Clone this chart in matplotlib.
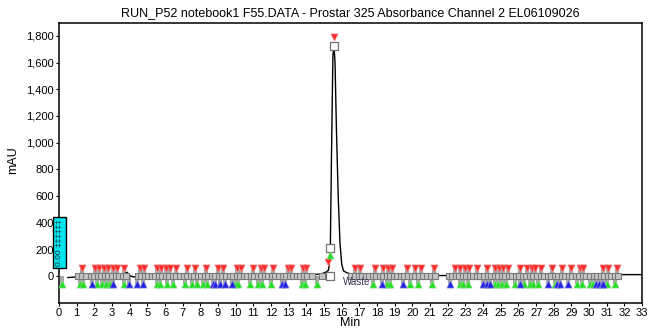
import numpy as np
import matplotlib
matplotlib.use("Agg")
import matplotlib.pyplot as plt
from matplotlib.patches import Rectangle
from matplotlib.ticker import FuncFormatter

plt.rcParams["font.family"] = ["Liberation Sans", "DejaVu Sans"]

title = "RUN_P52 notebook1 F55.DATA - Prostar 325 Absorbance Channel 2 EL06109026"

# chromatogram trace (min, mAU)
trace_t = [0.5, 1.0, 2.0, 3.0, 3.7, 3.85, 4.0, 4.2, 5.0, 6.0, 7.0, 8.0, 9.0, 10.0,
           11.0, 12.0, 13.0, 14.0, 14.5, 14.9, 15.1, 15.25, 15.35, 15.42, 15.5,
           15.56, 15.62, 15.7, 15.8, 15.9, 16.0, 16.1, 16.3, 16.6, 17.0, 18.0,
           20.0, 22.0, 24.0, 26.0, 28.0, 30.0, 32.0, 33.0]
trace_y = [-10, -5, 0, 5, 15, 30, 5, -5, 5, 0, 2, 5, 3, 0,
           5, 5, 8, 10, 12, 20, 30, 45, 150, 900, 1650,
           1725, 1600, 1100, 600, 250, 90, 40, 25, 15, 10, 8,
           5, 5, 5, 8, 10, 10, 12, 12]

# fraction markers
red_t = [1.28, 2.04, 2.28, 2.55, 2.79, 3.07, 3.3, 3.68, 4.58, 4.83, 5.53, 5.77,
         6.04, 6.28, 6.6, 7.22, 7.7, 8.32, 9.0, 9.3, 10.09, 10.28, 10.96, 11.43,
         11.62, 12.13, 12.98, 13.11, 13.79, 13.98, 16.75, 17.03, 17.88, 18.35,
         18.64, 18.82, 19.67, 20.15, 20.5, 21.2, 22.41, 22.69, 22.98, 23.22,
         23.64, 24.2, 24.67, 24.92, 25.14, 25.43, 26.1, 26.47, 26.75, 26.94,
         27.26, 27.88, 28.45, 29.0, 29.48, 29.67, 30.8, 31.09, 31.56]
green_t = [0.15, 1.19, 1.34, 2.17, 2.41, 2.66, 2.89, 3.68, 5.53, 5.72, 6.1, 6.47,
           7.13, 7.5, 7.79, 8.17, 8.36, 9.96, 10.15, 10.81, 11.28, 11.47, 11.98,
           13.73, 13.92, 14.58, 17.75, 18.54, 18.73, 19.86, 20.3, 21.09, 22.69,
           22.88, 23.17, 24.67, 24.86, 25.05, 25.3, 25.8, 26.3, 26.64, 26.84,
           27.12, 28.07, 29.3, 29.58, 30.05, 30.24, 31.0, 31.47]
blue_t = [1.85, 3.07, 3.98, 4.4, 4.77, 8.73, 8.83, 9.11, 9.39, 9.77, 12.6, 12.79,
          18.26, 19.48, 22.13, 24.01, 24.2, 24.39, 26.1, 27.69, 28.16, 28.35,
          28.82, 30.4, 30.55, 30.7, 30.8]
sq_t = [1.05, 1.3, 1.55, 1.8, 2.0, 2.2, 2.4, 2.6, 2.8, 3.0, 3.2, 3.4, 3.6, 3.8,
        4.45, 4.65, 4.85, 5.05, 5.25, 5.45, 5.65, 5.85, 6.05, 6.25, 6.45, 6.65,
        6.85, 7.05, 7.25, 7.45, 7.65, 7.85, 8.05, 8.25, 8.45, 8.65, 8.85, 9.05,
        9.25, 9.45, 9.65, 9.85, 10.05, 10.25, 10.45, 10.65, 10.85, 11.05, 11.25,
        11.45, 11.65, 11.85, 12.05, 12.25, 12.45, 12.65, 12.85, 13.05, 13.25,
        13.45, 13.65, 13.85, 14.05, 14.3, 14.9, 16.55, 16.75, 16.95, 17.15,
        17.35, 17.55, 17.75, 17.95, 18.15, 18.35, 18.55, 18.75, 18.95, 19.15,
        19.35, 19.55, 19.75, 19.95, 20.15, 20.35, 20.6, 20.85, 21.05, 21.3,
        22.05, 22.25, 22.45, 22.65, 22.85, 23.05, 23.25, 23.45, 23.65, 23.85,
        24.05, 24.25, 24.45, 24.65, 24.85, 25.05, 25.25, 25.45, 25.65, 25.85,
        26.05, 26.25, 26.45, 26.65, 26.85, 27.05, 27.25, 27.45, 27.65, 27.85,
        28.05, 28.25, 28.45, 28.65, 28.85, 29.05, 29.25, 29.45, 29.65, 29.85,
        30.05, 30.25, 30.45, 30.65, 30.85, 31.05, 31.25, 31.45, 31.65]

# markers around the peak
peak_red_t = [15.24, 15.58]
peak_red_y = [105, 1790]
peak_sq_t = [15.32, 15.35, 15.55]
peak_sq_y = [5, 210, 1725]
peak_green_t = [15.35]
peak_green_y = [160]

fig = plt.figure(figsize=(6.48, 3.30), dpi=100)
ax = fig.add_axes([0.091, 0.082, 0.9, 0.848])

up_y, dn_y = 58, -58
gray = "#a8a8a8"

# stems
ax.vlines(red_t, 0, up_y, color=gray, lw=3, zorder=1)
ax.vlines(green_t + blue_t, dn_y, 0, color=gray, lw=3, zorder=1)

ax.plot(trace_t, trace_y, color="black", lw=1.0, zorder=2)

ax.scatter(sq_t, np.zeros(len(sq_t)), marker="s", s=20, facecolor="#c4c4c4",
           edgecolor="#7a7a7a", lw=0.8, zorder=3)
ax.scatter(peak_sq_t, peak_sq_y, marker="s", s=28, facecolor="white",
           edgecolor="#707070", lw=0.9, zorder=3)

ax.scatter(red_t, np.full(len(red_t), up_y), marker="v", s=26, color="#ff2a2a",
           edgecolor="#f08080", lw=0.5, zorder=4)
ax.scatter(peak_red_t, peak_red_y, marker="v", s=26, color="#ff2a2a",
           edgecolor="#f08080", lw=0.5, zorder=4)
ax.scatter(green_t, np.full(len(green_t), dn_y), marker="^", s=26, color="#22dd22",
           edgecolor="#80e080", lw=0.5, zorder=4)
ax.scatter(peak_green_t, peak_green_y, marker="^", s=26, color="#22dd22",
           edgecolor="#80e080", lw=0.5, zorder=4)
ax.scatter(blue_t, np.full(len(blue_t), dn_y), marker="^", s=26, color="#2020e0",
           edgecolor="#8080e0", lw=0.5, zorder=4)

ax.text(16.05, -45, "Waste", fontsize=7, color="#333355", va="center", zorder=5)

# cyan annotation box on the left
ax.add_patch(Rectangle((-0.36, 58), 0.76, 388, facecolor="#00e5ee",
                       edgecolor="black", lw=1.0, clip_on=False, zorder=6))
ax.text(0.02, 250, "0.00 \u2021\u2021\u2021\u2021\u2021\u2021", rotation=90,
        fontsize=6, ha="center", va="center", color="#202020",
        clip_on=False, zorder=7)

ax.set_xlim(0, 33)
ax.set_ylim(-200, 1895)
ax.set_xticks(range(0, 34))
ax.set_yticks(range(0, 1801, 200))
ax.yaxis.set_major_formatter(FuncFormatter(lambda v, p: f"{int(v):,}"))
ax.tick_params(axis="both", labelsize=8, length=2, pad=1.5)
ax.tick_params(axis="x", pad=2)

for s in ax.spines.values():
    s.set_linewidth(1.1)

ax.set_xlabel("Min", fontsize=9)
ax.xaxis.set_label_coords(0.5, -0.05)
ax.set_ylabel("mAU", fontsize=9)
ax.yaxis.set_label_coords(-0.068, 0.51)
ax.set_title(title, fontsize=9, pad=5)

fig.savefig("out.png", dpi=100)
